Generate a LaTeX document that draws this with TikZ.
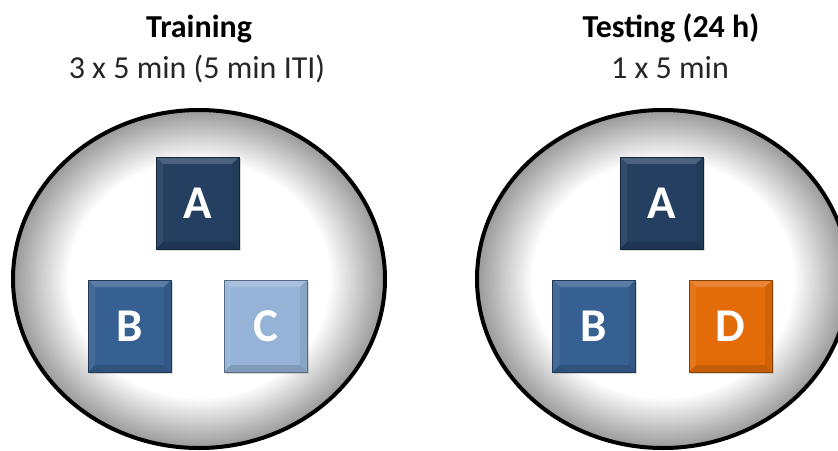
\documentclass[tikz,border=0pt]{standalone}
\usepackage{fontspec}
\setmainfont{Carlito}
\usetikzlibrary{shapes.geometric,shadows}

\definecolor{objA}{HTML}{243F60}
\definecolor{objB}{HTML}{376092}
\definecolor{objC}{HTML}{95B3D7}
\definecolor{objD}{HTML}{E36C09}

% arena floor: white centre fading to grey at the wall
\pgfdeclareradialshading{arena}{\pgfpoint{0bp}{0bp}}{%
  color(0bp)=(white); color(17.5bp)=(white); color(25bp)=(black!40); color(50bp)=(black!40)}

\tikzset{
  arena/.style={ellipse, draw=black, line width=4pt, shading=arena,
    minimum width=372pt, minimum height=338pt, inner sep=0pt},
  title/.style={anchor=base, font=\bfseries\fontsize{32}{38}\selectfont},
  subtitle/.style={anchor=base, font=\fontsize{32}{38}\selectfont, text=black!85},
  block/.style={rectangle, minimum width=83pt, minimum height=92pt, inner sep=0pt,
    fill=#1, draw=#1!60!black, line width=0.8pt, text=white,
    font=\bfseries\fontsize{47}{50}\selectfont,
    drop shadow={shadow xshift=1.5pt, shadow yshift=-2pt, opacity=0.3},
    path picture={
      \def\pb{path picture bounding box}
      % top bevel
      \fill[#1!82!white]
        (\pb.north west) -- (\pb.north east)
        -- ([shift={(-7pt,-7pt)}]\pb.north east) -- ([shift={(7pt,-7pt)}]\pb.north west) -- cycle;
      % left bevel
      \fill[#1!93!white]
        (\pb.north west) -- ([shift={(7pt,-7pt)}]\pb.north west)
        -- ([shift={(7pt,7pt)}]\pb.south west) -- (\pb.south west) -- cycle;
      % right bevel
      \fill[#1!92!black]
        (\pb.north east) -- ([shift={(-7pt,-7pt)}]\pb.north east)
        -- ([shift={(-7pt,7pt)}]\pb.south east) -- (\pb.south east) -- cycle;
      % bottom bevel
      \fill[#1!86!black]
        (\pb.south west) -- ([shift={(7pt,7pt)}]\pb.south west)
        -- ([shift={(-7pt,7pt)}]\pb.south east) -- (\pb.south east) -- cycle;
    }},
}

\begin{document}
\begin{tikzpicture}[x=1pt, y=-1pt]
  \useasboundingbox (0,0) rectangle (838,450);
  \clip (0,0) rectangle (838,450);

  % session headings
  \node[title]    (trainTitle) at (199,37) {Training};
  \node[subtitle] (trainTime)  at (197,78) {3 x 5 min (5 min ITI)};
  \node[title]    (testTitle)  at (671,37) {Testing (24 h)};
  \node[subtitle] (testTime)   at (670,78) {1 x 5 min};

  % open-field arenas
  \node[arena] (arenaTrain) at (199,279) {};
  \node[arena] (arenaTest)  at (663,279) {};

  % training objects
  \node[block=objA] (trainA) at (197.5,203) {A};
  \node[block=objB] (trainB) at (129.5,326) {B};
  \node[block=objC] (trainC) at (265.5,326) {C};

  % testing objects
  \node[block=objA] (testA) at (661.5,203) {A};
  \node[block=objB] (testB) at (594,326) {B};
  \node[block=objD] (testD) at (730.5,326) {D};
\end{tikzpicture}
\end{document}
